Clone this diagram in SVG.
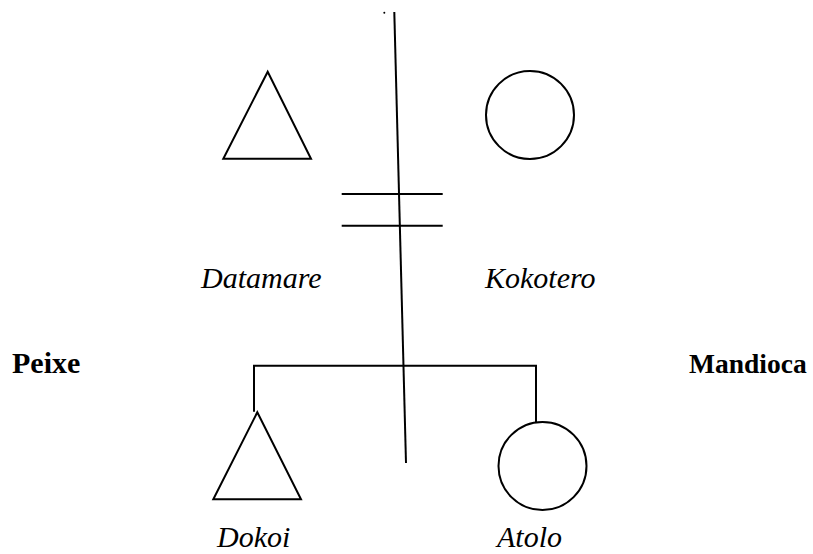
<svg xmlns="http://www.w3.org/2000/svg" width="813" height="554" viewBox="0 0 813 554">
<style>
.s{fill:none;stroke:#000;stroke-width:2}
.t{font-family:"Liberation Serif","Times New Roman",serif;font-size:30px;fill:#000}
.i{font-style:italic}
.b{font-weight:bold}
</style>
<rect width="813" height="554" fill="#fff"/>
<g id="connectors">
<line class="s" x1="394.3" y1="12" x2="406" y2="463"/>
<line class="s" x1="341.7" y1="194" x2="442.7" y2="194"/>
<line class="s" x1="341.7" y1="225.7" x2="442.7" y2="225.7"/>
<polyline class="s" points="254,411.7 254,365.7 536,365.7 536,422"/>
</g>
<circle cx="384.3" cy="12.7" r="1" fill="#000"/>
<g id="datamare">
<polygon class="s" points="267.7,71.7 311,158.7 223.3,158.7"/>
<text class="t i" x="201" y="288">Datamare</text>
</g>
<g id="kokotero">
<circle class="s" cx="530" cy="115" r="44"/>
<text class="t i" x="485" y="288">Kokotero</text>
</g>
<g id="dokoi">
<polygon class="s" points="257.3,412.3 301,499.3 213.3,499.3"/>
<text class="t i" x="217" y="547">Dokoi</text>
</g>
<g id="atolo">
<circle class="s" cx="542.5" cy="466" r="44"/>
<text class="t i" x="497" y="547">Atolo</text>
</g>
<g id="peixe">
<text class="t b" x="12" y="373">Peixe</text>
</g>
<g id="mandioca">
<text class="t b" x="689" y="373" style="font-size:27.5px">Mandioca</text>
</g>
</svg>
